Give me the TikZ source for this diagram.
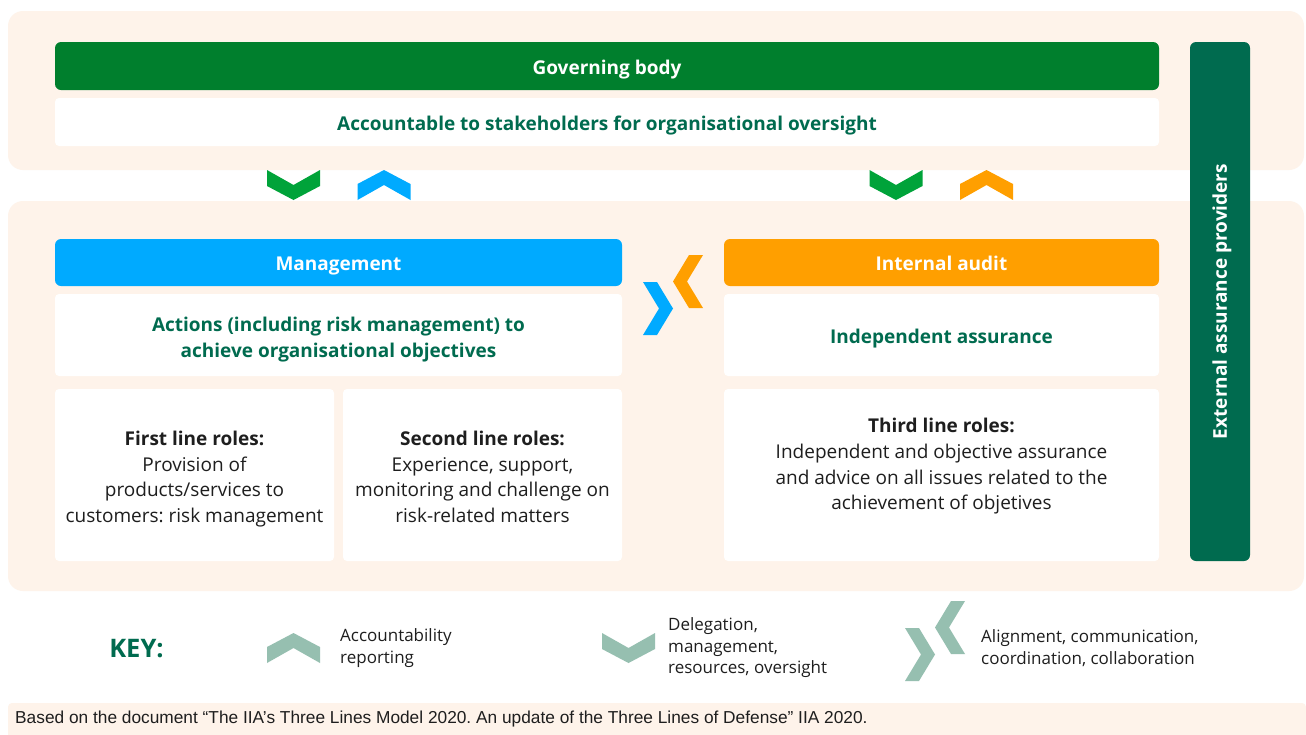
\documentclass[tikz,border=0pt]{standalone}
\usepackage{fontspec}
\IfFontExistsTF{Open Sans Bold}
  {\setmainfont{Open Sans}}
  {\IfFontExistsTF{Lato Bold}
    {\setmainfont{Lato}}
    {\setmainfont{Noto Sans}[BoldFont={Noto Sans}, BoldFeatures={FakeBold=2.5}]}}
\newfontfamily\footfont{Liberation Sans}
\frenchspacing
\definecolor{peach}{HTML}{FEF3EA}
\definecolor{govgreen}{HTML}{007F2D}
\definecolor{dkgreen}{HTML}{006B4F}
\definecolor{mgblue}{HTML}{00AAFF}
\definecolor{iaorange}{HTML}{FF9F00}
\definecolor{chevgreen}{HTML}{00A33A}
\definecolor{keygrey}{HTML}{96BFB0}
\definecolor{bodytext}{HTML}{1E1E1E}
\tikzset{
  panel/.style={fill=peach, rounded corners=15pt},
  bar/.style={rounded corners=6pt, inner sep=0pt, text=white, font=\bfseries\fontsize{19}{24}\selectfont, text height=16pt, text depth=0pt},
  wbox/.style={fill=white, rounded corners=4pt, inner sep=0pt},
  titletext/.style={text=dkgreen, font=\bfseries\fontsize{19}{26}\selectfont, align=center},
  roletext/.style={text=bodytext, font=\frenchspacing\fontsize{19}{25.7}\selectfont, align=center},
  keytext/.style={text=bodytext, font=\fontsize{17}{21.5}\selectfont, align=left, anchor=west, inner sep=0pt},
  chevdown/.pic={\fill (-26.5,-15) -- (0,0) -- (26.5,-15) -- (26.5,1) -- (0,15) -- (-26.5,1) -- cycle;},
  chevup/.pic={\fill (-26.5,15) -- (0,0) -- (26.5,15) -- (26.5,-1) -- (0,-15) -- (-26.5,-1) -- cycle;},
  chevright/.pic={\fill (-15,-26.5) -- (-1,-26.5) -- (15,0) -- (-1,26.5) -- (-15,26.5) -- (1,0) -- cycle;},
  chevleft/.pic={\fill (15,-26.5) -- (1,-26.5) -- (-15,0) -- (1,26.5) -- (15,26.5) -- (-1,0) -- cycle;},
}
\begin{document}
\begin{tikzpicture}[x=1pt,y=-1pt]
\useasboundingbox (0,0) rectangle (1306,734);
\fill[white] (0,0) rectangle (1306,734);
% panels
\fill[panel] (8,11) rectangle (1304,170);
\fill[panel] (8,201) rectangle (1304,591);
\fill[peach, rounded corners=4pt] (8,703) rectangle (1306,740);

% governing body
\node[bar, fill=govgreen, minimum width=1104pt, minimum height=48pt] (gov) at (607,66) {Governing body};
\node[wbox, minimum width=1104pt, minimum height=48pt] (acc) at (607,122) {};
\node[titletext] (acctxt) at (607,126) {Accountable to stakeholders for organisational oversight};

% external assurance
\node[bar, fill=dkgreen, minimum width=60pt, minimum height=519pt] (ext) at (1220,301.5) {};
\node[text=white, font=\bfseries\fontsize{19}{24}\selectfont, rotate=90, text height=13.5pt, text depth=0pt] (extlbl) at (ext.center) {External assurance providers};

% management side
\node[bar, fill=mgblue, minimum width=567pt, minimum height=47pt] (mgmt) at (338.5,262.5) {Management};
\node[wbox, minimum width=567pt, minimum height=82pt] (act) at (338.5,335) {};
\node[titletext] (acttxt) at (338.5,340) {Actions (including risk management) to\\achieve organisational objectives};
\node[wbox, minimum width=279pt, minimum height=172pt] (first) at (194.5,475) {};
\node[roletext] (firsttxt) at (194.5,479) {\textbf{First line roles:}\\Provision of\\products/services to\\customers: risk management};
\node[wbox, minimum width=279pt, minimum height=172pt] (second) at (482.5,475) {};
\node[roletext] (secondtxt) at (482.5,477) {\textbf{Second line roles:}\\Experience, support,\\monitoring and challenge on\\risk-related matters};

% internal audit side
\node[bar, fill=iaorange, minimum width=435pt, minimum height=47pt] (ia) at (941.5,262.5) {Internal audit};
\node[wbox, minimum width=435pt, minimum height=82pt] (indep) at (941.5,335) {};
\node[titletext] (indeptxt) at (941.5,339) {Independent assurance};
\node[wbox, minimum width=435pt, minimum height=172pt] (third) at (941.5,475) {};
\node[roletext] (thirdtxt) at (941.5,466.5) {\textbf{Third line roles:}\\Independent and objective assurance\\and advice on all issues related to the\\achievement of objetives};

% chevrons between governing body and lines
\pic[color=chevgreen] at (293.5,185) {chevdown};
\pic[color=mgblue] at (384,185) {chevup};
\pic[color=chevgreen] at (896,185) {chevdown};
\pic[color=iaorange] at (986.5,185) {chevup};
% chevrons between management and internal audit
\pic[color=mgblue] at (658,308.5) {chevright};
\pic[color=iaorange] at (688,281.5) {chevleft};

% key
\node[text=dkgreen, font=\bfseries\fontsize{25.5}{30}\selectfont, inner sep=0pt] (key) at (136.5,649) {KEY:};
\pic[color=keygrey] at (293.5,648) {chevup};
\node[keytext] (k1) at (340,648) {Accountability\\reporting};
\pic[color=keygrey] at (628.5,648) {chevdown};
\node[keytext] (k2) at (668,648) {Delegation,\\management,\\resources, oversight};
\pic[color=keygrey] at (920,654.5) {chevright};
\pic[color=keygrey] at (950,627.5) {chevleft};
\node[keytext] (k3) at (981,648) {Alignment, communication,\\coordination, collaboration};

% footer
\node[anchor=west, inner sep=0pt, text=bodytext, font=\footfont\fontsize{17.3}{20}\selectfont] (foot) at (15,719) {Based on the document “The IIA’s Three Lines Model 2020. An update of the Three Lines of Defense” IIA 2020.};
\end{tikzpicture}
\end{document}
